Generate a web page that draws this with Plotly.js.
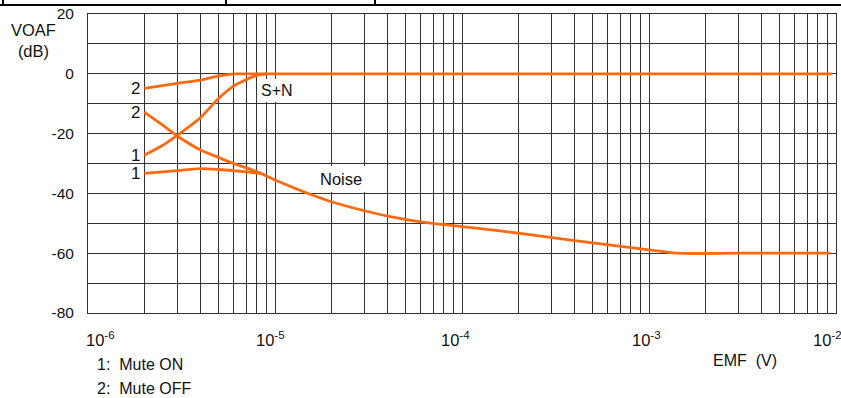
<!DOCTYPE html>
<html>
<head>
<meta charset="utf-8">
<script src="https://cdn.plot.ly/plotly-3.0.1.min.js"></script>
<style>html,body{margin:0;padding:0;background:#fff;}#chart{width:841px;height:398px;}</style>
</head>
<body>
<div id="chart"></div>
<script>
// ---- data ----
// S+N, Mute OFF (curve "2", upper)
const snOffEmf  = [2e-6, 3e-6, 4e-6, 5e-6, 6e-6];
const snOffVoaf = [-4.9, -3.2, -2.1, -0.7, 0];
// S+N, Mute ON (curve "1", upper)
const snOnEmf  = [2e-6, 2.5e-6, 3e-6, 4e-6, 5e-6, 6e-6, 7e-6, 8e-6, 9e-6];
const snOnVoaf = [-27.2, -24.0, -20.6, -14.6, -8.2, -4.1, -2.0, -0.5, 0];
// S+N common (both modes)
const snEmf  = [6e-6, 1e-5, 1e-4, 1e-3, 9.5e-3];
const snVoaf = [0, 0, 0, 0, 0];
// Noise, Mute OFF (curve "2", lower)
const noiseOffEmf  = [2e-6, 2.5e-6, 3e-6, 4e-6, 5e-6, 6e-6, 7e-6, 8e-6, 8.5e-6];
const noiseOffVoaf = [-12.8, -17.1, -20.8, -25.5, -28.0, -30.0, -31.4, -32.8, -33.4];
// Noise, Mute ON (curve "1", lower)
const noiseOnEmf  = [2e-6, 3e-6, 4e-6, 5e-6, 6e-6, 7e-6, 8e-6, 8.5e-6];
const noiseOnVoaf = [-33.3, -32.4, -31.7, -32.0, -32.4, -32.8, -33.2, -33.4];
// Noise common
const noiseEmf  = [8.5e-6, 1e-5, 1.1e-5, 1.47e-5, 2e-5, 3e-5, 4e-5, 6e-5, 1e-4, 1.6e-4, 2e-4, 4e-4, 1e-3, 1.4e-3, 3e-3, 9.3e-3];
const noiseVoaf = [-33.4, -35.5, -36.6, -39.8, -42.8, -45.8, -47.6, -49.5, -51.1, -52.5, -53.3, -55.8, -58.9, -60, -60, -60];

// axis ticks
const xDecades = [1e-6, 1e-5, 1e-4, 1e-3, 1e-2];
const xDecadeExp = ['-6', '-5', '-4', '-3', '-2'];
const yTicks = [20, 10, 0, -10, -20, -30, -40, -50, -60, -70, -80];
const yTickLabels = ['20', '', '0', '', '-20', '', '-40', '', '-60', '', '-80'];

// label placement (pixels, style only)
const xLabelShift = [12, -5, -7, -3, -9];

// ---- build grid ticks (decades + 2..9) ----
const xTickVals = [];
xDecades.forEach((d, i) => {
  xTickVals.push(d);
  if (i < xDecades.length - 1) {
    for (let m = 2; m <= 9; m++) xTickVals.push(d * m);
  }
});

const ORANGE = '#ff6a10';
const FONT = 'Liberation Sans, Arial, sans-serif';
const INK = '#111';
const lineStyle = {color: ORANGE, width: 2.8, shape: 'spline', smoothing: 0.7};

const traces = [
  {x: snOffEmf, y: snOffVoaf, name: 'S+N Mute OFF'},
  {x: snOnEmf, y: snOnVoaf, name: 'S+N Mute ON'},
  {x: snEmf, y: snVoaf, name: 'S+N'},
  {x: noiseOffEmf, y: noiseOffVoaf, name: 'Noise Mute OFF'},
  {x: noiseOnEmf, y: noiseOnVoaf, name: 'Noise Mute ON'},
  {x: noiseEmf, y: noiseVoaf, name: 'Noise'}
].map(t => Object.assign(t, {type: 'scatter', mode: 'lines', line: lineStyle, hoverinfo: 'skip'}));

const lbl = (x, y, text) => ({x: Math.log10(x), y: y, xref: 'x', yref: 'y', text: text, showarrow: false,
  xanchor: 'right', yanchor: 'middle', xshift: -2, font: {family: FONT, size: 17, color: INK}});

const annotations = [
  lbl(snOffEmf[0], snOffVoaf[0], '2'),
  lbl(noiseOffEmf[0], noiseOffVoaf[0], '2'),
  lbl(snOnEmf[0], snOnVoaf[0], '1'),
  lbl(noiseOnEmf[0], noiseOnVoaf[0], '1'),
  {x: Math.log10(1.026e-5), y: -5.5, xref: 'x', yref: 'y', text: 'S+N', showarrow: false,
   bgcolor: '#fff', borderpad: 3, borderwidth: 0, font: {family: FONT, size: 16, color: INK}},
  {x: Math.log10(2.26e-5), y: -35.2, xref: 'x', yref: 'y', text: 'Noise', showarrow: false,
   bgcolor: '#fff', borderpad: 4, borderwidth: 0, font: {family: FONT, size: 16.5, color: INK}},
  {x: (33 - 88) / 748, y: 1 - (41 - 14) / 299, xref: 'paper', yref: 'paper', text: 'VOAF<br>(dB)', showarrow: false,
   xanchor: 'center', yanchor: 'middle', font: {family: FONT, size: 16.5, color: INK}},
  {x: (745 - 88) / 748, y: -(360 - 313) / 299, xref: 'paper', yref: 'paper', text: 'EMF\u00a0\u00a0(V)', showarrow: false,
   xanchor: 'center', yanchor: 'middle', font: {family: FONT, size: 16, color: INK}},
  {x: (95 - 88) / 748, y: -(364 - 313) / 299, xref: 'paper', yref: 'paper',
   text: '1:\u00a0\u00a0Mute ON', showarrow: false, align: 'left',
   xanchor: 'left', yanchor: 'middle', font: {family: FONT, size: 16, color: INK}},
  {x: (95 - 88) / 748, y: -(388 - 313) / 299, xref: 'paper', yref: 'paper',
   text: '2:\u00a0\u00a0Mute OFF', showarrow: false, align: 'left',
   xanchor: 'left', yanchor: 'middle', font: {family: FONT, size: 16, color: INK}}
];

// decade tick labels placed at the decade values through the x scale
xDecades.forEach((d, i) => {
  annotations.push({x: Math.log10(d), y: -(339 - 313) / 299, xref: 'x', yref: 'paper',
    text: '10<sup>' + xDecadeExp[i] + '</sup>',
    showarrow: false, xanchor: 'center', yanchor: 'middle', xshift: xLabelShift[i],
    font: {family: FONT, size: 16.5, color: INK}});
});

// cropped table border fragment at the top of the page
const px = v => (v - 88) / 748;
const py = v => 1 + (14 - v) / 299;
const shapes = [
  {type: 'line', xref: 'paper', yref: 'paper', x0: px(0), x1: px(841), y0: py(5), y1: py(5), line: {color: '#000', width: 2}},
  {type: 'line', xref: 'paper', yref: 'paper', x0: px(3), x1: px(3), y0: py(0), y1: py(5), line: {color: '#000', width: 2}},
  {type: 'line', xref: 'paper', yref: 'paper', x0: px(226), x1: px(226), y0: py(0), y1: py(5), line: {color: '#000', width: 2}},
  {type: 'line', xref: 'paper', yref: 'paper', x0: px(375), x1: px(375), y0: py(0), y1: py(5), line: {color: '#000', width: 2}}
];

const layout = {
  width: 841, height: 398,
  margin: {l: 88, r: 5, t: 14, b: 85},
  paper_bgcolor: '#fff', plot_bgcolor: '#fff',
  showlegend: false,
  font: {family: FONT, size: 15, color: INK},
  xaxis: {
    type: 'log', range: [-6, -2], tickmode: 'array', tickvals: xTickVals,
    showticklabels: false,
    showgrid: true, gridcolor: '#333', gridwidth: 1, zeroline: false,
    showline: true, linecolor: '#333', linewidth: 1, mirror: true, ticks: ''
  },
  yaxis: {
    range: [-80, 20], tickmode: 'array', tickvals: yTicks, ticktext: yTickLabels,
    showgrid: true, gridcolor: '#333', gridwidth: 1, zeroline: false,
    showline: true, linecolor: '#333', linewidth: 1, mirror: true,
    ticks: '', ticklabelstandoff: 10, tickfont: {family: FONT, size: 15.5, color: INK}
  },
  annotations: annotations,
  shapes: shapes
};

Plotly.newPlot('chart', traces, layout, {staticPlot: true, displayModeBar: false});
</script>
</body>
</html>
